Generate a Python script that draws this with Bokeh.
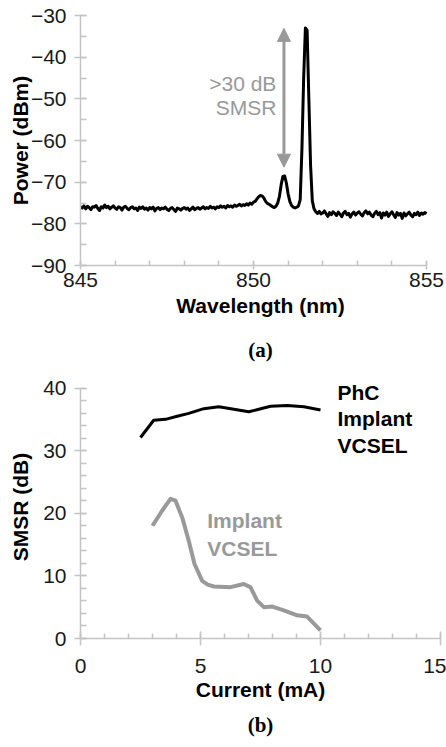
from bokeh.plotting import figure
from bokeh.models import Range1d, SingleIntervalTicker, Label, Arrow, NormalHead, Title
from bokeh.layouts import column
from bokeh.embed import file_html
from bokeh.resources import INLINE

# ---------------- data: (a) optical spectrum ----------------
spectrum_start_nm = 845.0
spectrum_step_nm = 0.05
power_dbm = [
    # 845.00 - 849.95
    -75.9, -76.2, -75.7, -76.4, -75.8, -76.1, -76.6, -75.9, -76.0, -75.6,
    -76.3, -76.8, -75.9, -76.2, -75.5, -76.1, -75.8, -76.4, -76.0, -75.7,
    -76.2, -76.5, -75.9, -76.1, -76.7, -76.0, -75.8, -76.3, -76.6, -76.1,
    -75.9, -76.4, -76.2, -76.8, -76.0, -76.3, -75.9, -76.5, -76.2, -76.7,
    -76.1, -76.4, -76.0, -76.9, -76.3, -76.1, -76.6, -76.2, -76.4, -76.0,
    -76.5, -76.8, -76.3, -76.1, -76.6, -77.0, -76.2, -76.4, -76.7, -76.3,
    -76.1, -76.5, -76.2, -76.8, -76.4, -76.0, -76.6, -76.3, -76.1, -76.5,
    -76.2, -75.9, -76.4, -76.1, -76.3, -75.8, -76.2, -76.0, -76.4, -75.9,
    -76.1, -75.7, -76.0, -75.8, -76.2, -75.6, -75.9, -75.7, -76.0, -75.5,
    -75.8, -75.6, -75.3, -75.7, -75.4, -75.6, -75.2, -75.5, -75.0, -75.3,
    # 850.00 - 851.95
    -74.8, -74.6, -74.0, -73.5, -73.2, -73.3, -73.8, -74.6, -75.1, -75.3,
    -75.6, -75.9, -76.1, -75.8, -75.0, -73.4, -70.6, -68.6, -68.5, -70.2,
    -72.8, -74.6, -75.6, -76.0, -76.2, -76.0, -75.7, -74.2, -62.0, -45.0,
    -33.0, -33.5, -50.0, -66.0, -74.5, -76.4, -77.1, -77.5, -77.0, -77.6,
    # 852.00 - 855.00
    -77.4, -76.9, -77.6, -78.2, -77.3, -77.8, -77.1, -77.5, -78.0, -77.2,
    -77.7, -78.3, -77.4, -77.0, -77.8, -77.5, -78.4, -77.6, -77.2, -77.9,
    -77.4, -77.1, -77.7, -78.1, -77.3, -76.9, -77.6, -77.2, -77.9, -78.3,
    -77.5, -77.0, -77.8, -77.3, -78.6, -77.4, -77.9, -77.2, -78.2, -77.6,
    -77.1, -77.8, -78.5, -77.3, -77.9, -77.5, -78.7, -77.4, -78.1, -77.6,
    -77.2, -77.9, -78.3, -77.5, -77.8, -77.2, -78.0, -77.4, -77.7, -77.3,
    -77.6,
]
wavelength_nm = [round(spectrum_start_nm + spectrum_step_nm * i, 2) for i in range(len(power_dbm))]

# ---------------- data: (b) SMSR vs current ----------------
phc_current_ma = [2.5, 3.05, 3.54, 4.03, 4.51, 5.14, 5.76, 6.39, 7.01, 7.43, 7.92, 8.61, 9.31, 10.0]
phc_smsr_db = [32.1, 34.85, 35.0, 35.5, 35.95, 36.7, 37.0, 36.6, 36.2, 36.6, 37.1, 37.2, 37.0, 36.5]

implant_current_ma = [3.0, 3.4, 3.75, 3.96, 4.24, 4.51, 4.75, 5.07, 5.3, 5.56, 6.25, 6.8, 7.08,
                      7.36, 7.64, 7.99, 8.47, 9.03, 9.44, 10.0]
implant_smsr_db = [18.0, 20.4, 22.3, 22.0, 19.3, 15.6, 11.9, 9.2, 8.6, 8.3, 8.2, 8.7, 8.2,
                   6.05, 5.0, 5.1, 4.5, 3.7, 3.5, 1.3]

# ---------------- styling ----------------
AXIS_GRAY = "#c4c4c4"
TEXT_GRAY = "#999999"
SANS = "Liberation Sans"
SERIF = "Liberation Serif"
FS = "21px"


def style_axis(ax, maj_in, maj_out, min_in, standoff, label_standoff):
    ax.axis_line_color = AXIS_GRAY
    ax.axis_line_width = 1.5
    ax.major_tick_line_color = AXIS_GRAY
    ax.major_tick_line_width = 1.5
    ax.minor_tick_line_color = AXIS_GRAY
    ax.minor_tick_line_width = 1.5
    ax.major_tick_in = maj_in
    ax.major_tick_out = maj_out
    ax.minor_tick_in = min_in
    ax.minor_tick_out = 0
    ax.major_label_standoff = standoff
    ax.major_label_text_font = SANS
    ax.major_label_text_font_size = FS
    ax.major_label_text_color = "#1a1a1a"
    ax.axis_label_text_font = SANS
    ax.axis_label_text_font_style = "bold"
    ax.axis_label_text_font_size = FS
    ax.axis_label_text_color = "black"
    ax.axis_label_standoff = label_standoff


def base_figure(height, xr, yr, border_top, border_bottom):
    p = figure(width=446, height=height, x_range=xr, y_range=yr,
               output_backend="svg", toolbar_location=None,
               min_border_left=80, min_border_right=6,
               min_border_top=border_top, min_border_bottom=border_bottom)
    p.outline_line_color = None
    p.xgrid.visible = False
    p.ygrid.visible = False
    p.background_fill_color = "white"
    p.border_fill_color = "white"
    return p


def caption(p, text, standoff, valign):
    p.title.text = text
    p.title.align = "center"
    p.title.offset = -10
    p.title.standoff = standoff
    p.title.vertical_align = valign
    p.title.text_font = SERIF
    p.title.text_font_style = "bold"
    p.title.text_font_size = "21px"
    p.title.text_color = "black"


# ---------------- (a) ----------------
# axis drawn 845-855; the frame runs a little further right, as in the source figure
p1 = base_figure(322, Range1d(845, 855.405), Range1d(-90, -30), 15, 57)
p1.xaxis.ticker = SingleIntervalTicker(interval=5, num_minor_ticks=5)
p1.yaxis.ticker = SingleIntervalTicker(interval=10, num_minor_ticks=2)
p1.xaxis.bounds = (845, 855)
p1.xaxis.axis_label = "Wavelength (nm)"
p1.yaxis.axis_label = "Power (dBm)"
style_axis(p1.xaxis[0], 4, 4, 5, 3, 4)
style_axis(p1.yaxis[0], 6, 6, 6, 8, -4)

p1.line(wavelength_nm, power_dbm, line_color="black", line_width=3, line_join="round")

head_kw = dict(size=13, fill_color=TEXT_GRAY, line_color=TEXT_GRAY)
p1.add_layout(Arrow(start=NormalHead(**head_kw), end=NormalHead(**head_kw),
                    x_start=850.88, y_start=-66.4, x_end=850.88, y_end=-33.1,
                    line_color=TEXT_GRAY, line_width=3))
for txt, yy in [(">30 dB", -46.3), ("SMSR", -52.1)]:
    p1.add_layout(Label(x=850.66, y=yy, text=txt, text_align="right", text_baseline="middle",
                        text_font=SANS, text_font_size=FS, text_color=TEXT_GRAY))

# ---------------- (b) ----------------
p2 = base_figure(425, Range1d(0, 15), Range1d(0, 42), 53, 109)
p2.xaxis.ticker = SingleIntervalTicker(interval=5, num_minor_ticks=5)
p2.yaxis.ticker = SingleIntervalTicker(interval=10, num_minor_ticks=5)
p2.yaxis.bounds = (0, 40)
p2.xaxis.axis_label = "Current (mA)"
p2.yaxis.axis_label = "SMSR (dB)"
style_axis(p2.xaxis[0], 7, 7, 5, 13, 2)
style_axis(p2.yaxis[0], 6, 6, 6, 8, 8)

# caption "(a)" of the upper panel sits in the header of the lower figure
caption(p2, "(a)", 27, "bottom")

p2.line(phc_current_ma, phc_smsr_db, line_color="black", line_width=3, line_join="round")
p2.line(implant_current_ma, implant_smsr_db, line_color=TEXT_GRAY, line_width=4, line_join="round")

for txt, yy in [("PhC", 39.25), ("Implant", 35.1), ("VCSEL", 30.76)]:
    p2.add_layout(Label(x=10.71, y=yy, text=txt, text_align="left", text_baseline="middle",
                        text_font=SANS, text_font_style="bold", text_font_size=FS,
                        text_color="black"))
for txt, yy in [("Implant", 18.8), ("VCSEL", 14.3)]:
    p2.add_layout(Label(x=5.28, y=yy, text=txt, text_align="left", text_baseline="middle",
                        text_font=SANS, text_font_style="bold", text_font_size=FS,
                        text_color=TEXT_GRAY))
p2.add_layout(Title(text="(b)", align="center", offset=-10, standoff=18, vertical_align="top",
                    text_font=SERIF, text_font_style="bold", text_font_size="21px",
                    text_color="black"), "below")

layout = column(p1, p2, spacing=0)
open("out.html", "w").write(file_html(layout, INLINE))
